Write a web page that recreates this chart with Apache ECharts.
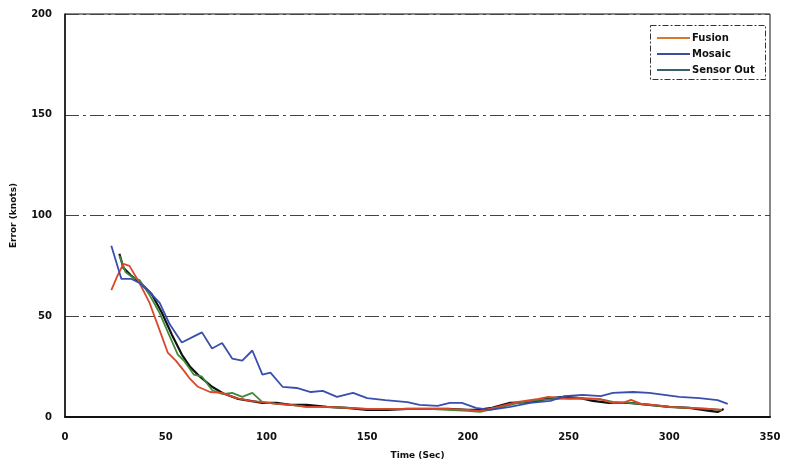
<!DOCTYPE html>
<html>
<head>
<meta charset="utf-8">
<script src="https://cdn.jsdelivr.net/npm/echarts@6/dist/echarts.min.js"></script>
<style>html,body{margin:0;padding:0;background:#fff;}#c{width:788px;height:466px;}</style>
</head>
<body>
<div id="c"></div>
<script>
// ---- data ----
var yTicks = [0, 50, 100, 150, 200];
var xTicks = [0, 50, 100, 150, 200, 250, 300, 350];

var fusionTime = [23, 26, 29, 32, 37, 42, 47, 51, 55, 59, 62, 66, 72, 78, 85, 92, 98, 105, 112, 120, 130, 140, 150, 160, 170, 180, 190, 200, 206, 215, 225, 235, 240, 250, 258, 265, 272, 277, 281, 286, 292, 300, 310, 320, 326];
var fusionErr  = [63, 70, 76, 75, 66.5, 56.6, 43, 32, 28, 23, 19, 15, 12.4, 12, 9.4, 8, 7.4, 6.5, 6, 5, 5, 4.5, 4, 4, 4, 4, 4, 3.5, 3, 5, 7.5, 9, 10, 9, 9, 9, 7, 7, 8.5, 6.5, 6, 5, 4.5, 4, 3.5];

var mosaicTime = [23, 28, 33, 37, 42, 47, 52, 58, 64, 68, 73, 78, 83, 88, 93, 98, 102, 108, 115, 122, 128, 135, 143, 150, 159, 170, 176, 185, 191, 197, 204, 211, 221, 231, 241, 248, 257, 266, 272, 282, 290, 305, 315, 324, 329];
var mosaicErr  = [85, 68.5, 68.5, 66.5, 62, 56.6, 46, 37, 40, 42, 34, 36.7, 29, 28, 33, 21, 22, 15, 14.4, 12.4, 13, 10, 12, 9.4, 8.4, 7.4, 6, 5.5, 7, 7, 4.5, 3.5, 5, 7, 8, 10.4, 11, 10.4, 12, 12.4, 12, 10, 9.4, 8.4, 6.5];

var sensorTime = [27, 30, 34, 37, 42, 47, 52, 56, 59, 64, 68, 73, 78, 83, 88, 93, 98, 105, 112, 120, 130, 140, 150, 160, 170, 180, 190, 200, 206, 215, 225, 235, 245, 255, 265, 272, 280, 290, 300, 310, 320, 326];
var sensorErr  = [80, 72, 69, 68, 60.5, 51.6, 40, 31, 28, 21, 20, 13.4, 11.4, 12, 10, 12, 7.4, 6.5, 6, 5, 5, 4.5, 4, 4, 4, 4, 3.5, 3, 2.5, 4.5, 7, 8.5, 9, 9.5, 9, 7.5, 7, 6, 5, 4.5, 4, 3.5];

var extraTime = [27, 29, 33, 38, 43, 48, 53, 58, 62, 67, 73, 79, 86, 92, 98, 105, 112, 120, 130, 140, 150, 160, 170, 180, 190, 200, 205, 212, 221, 231, 241, 248, 256, 262, 270, 280, 290, 300, 310, 320, 324, 327];
var extraErr  = [81, 74, 70, 66, 61, 52, 41, 31, 25, 20, 15, 11.5, 9, 8, 7, 7, 6, 6, 5, 4.5, 3.5, 3.5, 4, 4, 4, 3.5, 3.5, 4.5, 7, 7.4, 9.4, 10, 9.4, 8, 7, 7, 6, 5, 4.5, 3, 2.5, 4];

function pairs(t, v) { return t.map(function (x, i) { return [x, v[i]]; }); }

var font = 'DejaVu Sans, Verdana, sans-serif';
var chart = echarts.init(document.getElementById('c'));
chart.setOption({
  animation: false,
  backgroundColor: '#ffffff',
  grid: { left: 65, right: 18, top: 14, bottom: 49, show: true, borderColor: '#111', borderWidth: 1, backgroundColor: 'transparent' },
  legend: {
    orient: 'vertical', left: 652, top: 28,
    data: ['Fusion', 'Mosaic', 'Sensor Out'],
    itemWidth: 33, itemHeight: 2, itemGap: 6,
    icon: 'rect',
    textStyle: { fontFamily: font, fontSize: 10, fontWeight: 'bold', color: '#111', padding: [0, 0, 0, -3] }
  },
  graphic: [{
    type: 'rect', left: 650, top: 25,
    shape: { width: 115, height: 54 },
    style: { fill: 'transparent', stroke: '#333', lineWidth: 1, lineDash: [6, 2, 2, 2] },
    z: 100
  }],
  xAxis: {
    type: 'value', min: 0, max: 350, interval: 50,
    name: 'Time (Sec)', nameLocation: 'middle', nameGap: 34,
    nameTextStyle: { fontFamily: font, fontSize: 9, fontWeight: 'bold', color: '#111' },
    axisLine: { show: true, lineStyle: { color: '#111', width: 2 } },
    axisTick: { show: false },
    splitLine: { show: false },
    axisLabel: { fontFamily: font, fontSize: 10, fontWeight: 'bold', color: '#111', margin: 15 }
  },
  yAxis: {
    type: 'value', min: 0, max: 200, interval: 50,
    name: 'Error (knots)', nameLocation: 'middle', nameGap: 47, nameRotate: 90,
    nameTextStyle: { fontFamily: font, fontSize: 9, fontWeight: 'bold', color: '#111' },
    axisLine: { show: true, lineStyle: { color: '#111', width: 1.5 } },
    axisTick: { show: false },
    splitLine: { show: true, lineStyle: { color: '#444', width: 1, type: [14, 4, 3, 4] } },
    axisLabel: { fontFamily: font, fontSize: 10, fontWeight: 'bold', color: '#111', margin: 13 }
  },
  series: [
    { name: 'Extra', type: 'line', data: pairs(extraTime, extraErr), showSymbol: false, lineStyle: { color: '#111', width: 2.2 }, itemStyle: { color: '#111' }, z: 1 },
    { name: 'Sensor Out', type: 'line', data: pairs(sensorTime, sensorErr), showSymbol: false, lineStyle: { color: '#3f8a3a', width: 1.8 }, itemStyle: { color: '#3a5f6e' }, z: 2 },
    { name: 'Fusion', type: 'line', data: pairs(fusionTime, fusionErr), showSymbol: false, lineStyle: { color: '#d9482c', width: 1.8 }, itemStyle: { color: '#d9782a' }, z: 3 },
    { name: 'Mosaic', type: 'line', data: pairs(mosaicTime, mosaicErr), showSymbol: false, lineStyle: { color: '#3a4eb0', width: 1.8 }, itemStyle: { color: '#3a4ea0' }, z: 4 }
  ]
});
</script>
</body>
</html>
